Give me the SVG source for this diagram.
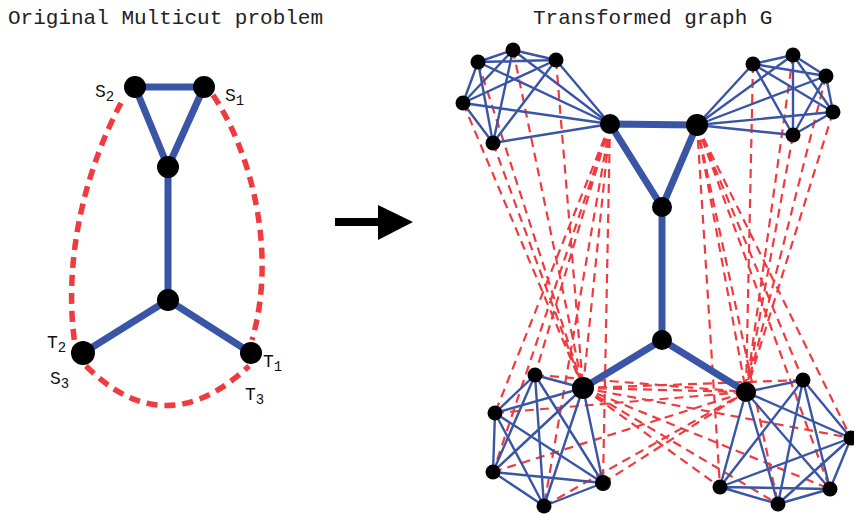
<svg xmlns="http://www.w3.org/2000/svg" width="854" height="514" viewBox="0 0 854 514">
<style>
.title{font-family:"Liberation Mono","DejaVu Sans Mono",monospace;font-size:21px;fill:#222}
.lab{font-family:"Liberation Mono","DejaVu Sans Mono",monospace;font-size:18px;fill:#111}
.sub{font-size:14px}
.thick{stroke:#3a55a5;stroke-width:7;fill:none;stroke-linecap:butt}
.thin{stroke:#3a55a5;stroke-width:2.4;fill:none}
.cut{stroke:#ef3b3f;stroke-width:5.5;stroke-dasharray:11 7;fill:none}
.dash{stroke:#ef3b3f;stroke-width:2.2;stroke-dasharray:9 6;fill:none}
.n{fill:#000}
</style>
<rect width="854" height="514" fill="#fff"/>
<text class="title" x="8" y="24">Original Multicut problem</text>
<text class="title" x="533" y="24">Transformed graph G</text>

<g id="left-connectors">
<path class="cut" d="M121,103 C88,165 62,255 75,345"/>
<path class="cut" d="M213,95 C250,150 278,250 252,340"/>
<path class="cut" d="M86,366 Q165,445 249,366"/>
<path class="thick" d="M135,87L204,87M135,87L168,167M204,87L168,167M168,167L168,300M168,300L83,353M168,300L251,353"/>
</g>
<g id="L-S2"><circle class="n" cx="135" cy="87" r="11"/><text class="lab" x="95" y="97">S<tspan class="sub" dy="4">2</tspan></text></g>
<g id="L-S1"><circle class="n" cx="204" cy="87" r="11"/><text class="lab" x="225" y="101">S<tspan class="sub" dy="4">1</tspan></text></g>
<g id="L-mid"><circle class="n" cx="168" cy="167" r="11"/></g>
<g id="L-junction"><circle class="n" cx="168" cy="300" r="11"/></g>
<g id="L-T2"><circle class="n" cx="83" cy="353" r="12"/><text class="lab" x="47" y="348">T<tspan class="sub" dy="4">2</tspan></text><text class="lab" x="50" y="384">S<tspan class="sub" dy="4">3</tspan></text></g>
<g id="L-T1"><circle class="n" cx="251" cy="353" r="11"/><text class="lab" x="263" y="367">T<tspan class="sub" dy="4">1</tspan></text><text class="lab" x="245" y="400">T<tspan class="sub" dy="4">3</tspan></text></g>

<g id="arrow">
<rect x="335" y="218" width="46" height="8" fill="#000"/>
<polygon points="378,205 413,222 378,240" fill="#000"/>
</g>

<g id="right-connectors">
<path class="dash" d="M610,124L583,388M610,124L535,375M610,124L495,413M610,124L493,472M610,124L544,506M610,124L603,483
M513,50L583,388M478,62L583,388M556,60L583,388M463,103L583,388M493,143L583,388"/>
<path class="dash" d="M697,125L746,392M697,125L803,380M697,125L851,438M697,125L830,489M697,125L778,504M697,125L720,487
M753,64L746,392M793,55L746,392M826,76L746,392M833,112L746,392M793,135L746,392"/>
<path class="dash" d="M583,388L746,392M583,388L803,380M583,388L851,438M583,388L830,489M583,388L778,504M583,388L720,487
M535,375L746,392M495,413L746,392M493,472L746,392M544,506L746,392M603,483L746,392"/>
<path class="thin" d="M610,124L513,50M610,124L478,62M610,124L556,60M610,124L463,103M610,124L493,143M513,50L478,62M513,50L556,60M513,50L463,103M513,50L493,143M478,62L556,60M478,62L463,103M478,62L493,143M556,60L463,103M556,60L493,143M463,103L493,143"/>
<path class="thin" d="M697,125L753,64M697,125L793,55M697,125L826,76M697,125L833,112M697,125L793,135M753,64L793,55M753,64L826,76M753,64L833,112M753,64L793,135M793,55L826,76M793,55L833,112M793,55L793,135M826,76L833,112M826,76L793,135M833,112L793,135"/>
<path class="thin" d="M583,388L535,375M583,388L495,413M583,388L493,472M583,388L544,506M583,388L603,483M535,375L495,413M535,375L493,472M535,375L544,506M535,375L603,483M495,413L493,472M495,413L544,506M495,413L603,483M493,472L544,506M493,472L603,483M544,506L603,483"/>
<path class="thin" d="M746,392L803,380M746,392L851,438M746,392L830,489M746,392L778,504M746,392L720,487M803,380L851,438M803,380L830,489M803,380L778,504M803,380L720,487M851,438L830,489M851,438L778,504M851,438L720,487M830,489L778,504M830,489L720,487M778,504L720,487"/>
<path class="thick" d="M610,124L697,125M610,124L662,207M697,125L662,207M662,207L662,340M662,340L583,388M662,340L746,392"/>
</g>

<g id="R-hubA"><circle class="n" cx="610" cy="124" r="10"/></g>
<g id="R-hubB"><circle class="n" cx="697" cy="125" r="11"/></g>
<g id="R-mid"><circle class="n" cx="662" cy="207" r="10"/></g>
<g id="R-junction"><circle class="n" cx="662" cy="340" r="10"/></g>
<g id="R-hubC"><circle class="n" cx="583" cy="388" r="11"/></g>
<g id="R-hubD"><circle class="n" cx="746" cy="392" r="10"/></g>
<g id="R-TL-cluster">
<circle class="n" cx="513" cy="50" r="7.5"/><circle class="n" cx="478" cy="62" r="7.5"/><circle class="n" cx="556" cy="60" r="7.5"/><circle class="n" cx="463" cy="103" r="7.5"/><circle class="n" cx="493" cy="143" r="7.5"/>
</g>
<g id="R-TR-cluster">
<circle class="n" cx="753" cy="64" r="7.5"/><circle class="n" cx="793" cy="55" r="7.5"/><circle class="n" cx="826" cy="76" r="7.5"/><circle class="n" cx="833" cy="112" r="7.5"/><circle class="n" cx="793" cy="135" r="7.5"/>
</g>
<g id="R-BL-cluster">
<circle class="n" cx="535" cy="375" r="7.5"/><circle class="n" cx="495" cy="413" r="7.5"/><circle class="n" cx="493" cy="472" r="7.5"/><circle class="n" cx="544" cy="506" r="7.5"/><circle class="n" cx="603" cy="483" r="8"/>
</g>
<g id="R-BR-cluster">
<circle class="n" cx="803" cy="380" r="7.5"/><circle class="n" cx="851" cy="438" r="7.5"/><circle class="n" cx="830" cy="489" r="7.5"/><circle class="n" cx="778" cy="504" r="7.5"/><circle class="n" cx="720" cy="487" r="7.5"/>
</g>
</svg>
